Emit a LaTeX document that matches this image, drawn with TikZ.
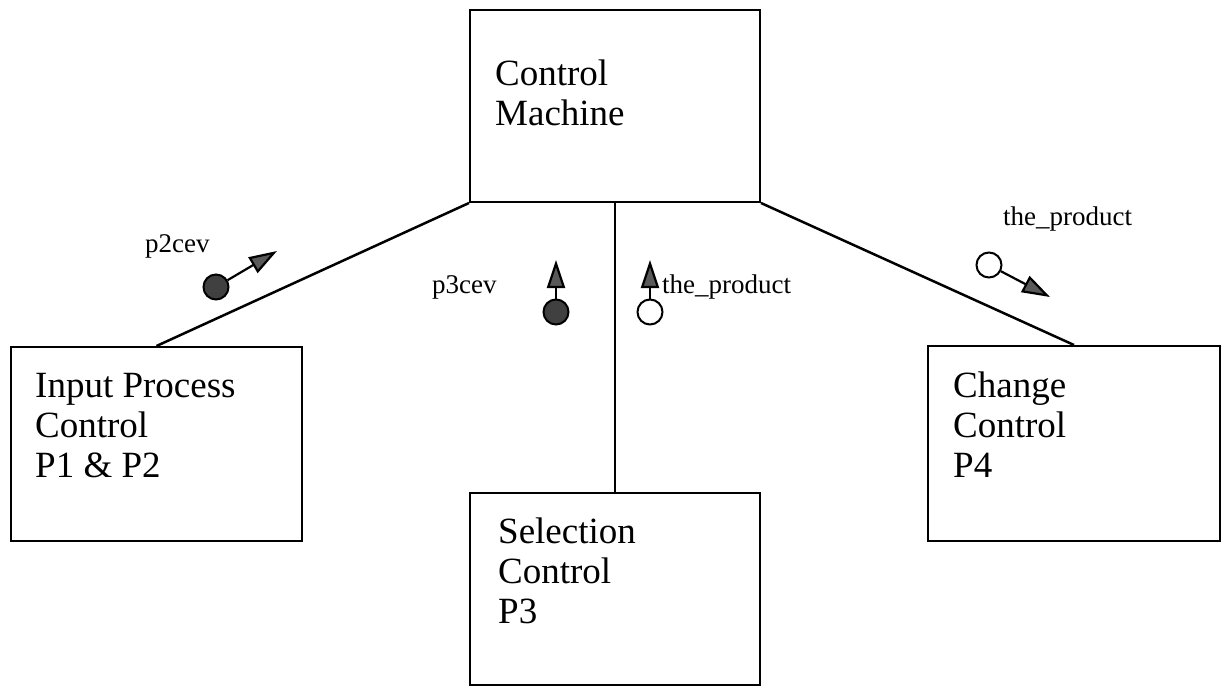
\documentclass[tikz,border=0pt]{standalone}
\usepackage{fontspec}
\setmainfont{Liberation Serif}
\usetikzlibrary{arrows.meta}
\begin{document}
\begin{tikzpicture}[x=1pt,y=-1pt,
  box/.style={draw,line width=2pt,inner sep=0pt,rectangle},
  boxtext/.style={font=\fontsize{37}{40}\selectfont,align=left,inner sep=0pt,anchor=base west},
  lbl/.style={font=\fontsize{27}{30}\selectfont,inner sep=0pt,anchor=base west},
  link/.style={line width=2.5pt},
  token/.style={circle,draw,line width=2pt,inner sep=0pt,minimum size=25pt},
  full/.style={token,fill=black!75},
  hollow/.style={token,fill=white},
  flow/.style={line width=2.2pt,-{Triangle[length=28pt,width=18pt,fill=black!65]}}]
\useasboundingbox (0,0) rectangle (1229,686);
% boxes
\node[box,minimum width=290pt,minimum height=192pt] (cm) at (615,106) {};
\node[box,minimum width=291pt,minimum height=194pt] (in) at (156.5,444) {};
\node[box,minimum width=290pt,minimum height=192pt] (sel) at (615,589) {};
\node[box,minimum width=292pt,minimum height=195pt] (chg) at (1074,443.5) {};
% box texts (anchor = baseline of last line)
\node[boxtext] (cmt) at (495,125) {Control\\Machine};
\node[boxtext] (int) at (35,477) {Input Process\\Control\\P1 \& P2};
\node[boxtext] (selt) at (498,623) {Selection\\Control\\P3};
\node[boxtext] (chgt) at (953,477) {Change\\Control\\P4};
% connectors
\draw[link] (cm.south west) -- (in.north);
\draw[link] (cm.south) -- (sel.north);
\draw[link] (cm.south east) -- (chg.north);
% tokens
\node[full] (d2) at (216,287) {};
\coordinate (t2) at (277,251);
\draw[flow] (d2) -- (t2);
\node[lbl] (l2) at (145,252) {p2cev};

\node[full] (d3) at (556,312) {};
\coordinate (t3) at (556,260);
\draw[flow] (d3) -- (t3);
\node[lbl] (l3) at (432,293) {p3cev};

\node[hollow] (o3) at (650,312) {};
\coordinate (u3) at (650,260);
\draw[flow] (o3) -- (u3);
\node[lbl] (m3) at (662,293) {the\_product};

\node[hollow] (o4) at (989,265) {};
\coordinate (u4) at (1050,297);
\draw[flow] (o4) -- (u4);
\node[lbl] (m4) at (1003,225) {the\_product};
\end{tikzpicture}
\end{document}
